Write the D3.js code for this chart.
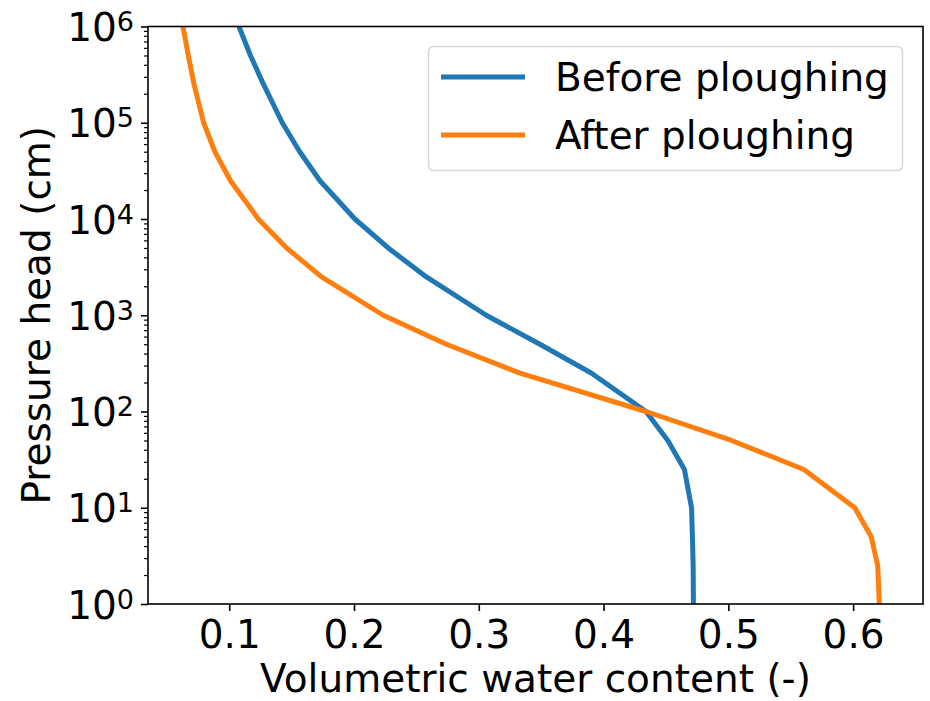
<!DOCTYPE html>
<html>
<head>
  <title></title>
  <script src="https://cdn.jsdelivr.net/npm/d3@7"></script>
  <style>
    body { margin: 0; background: #fff; }
    text { font-family: "DejaVu Sans", sans-serif; fill: #000; }
    .domain { display: none; }
  </style>
</head>
<body>
<script type="text/javascript">
// pressure heads (cm) and water contents
var heads = [1, 2.5, 5, 10, 25, 50, 100, 250, 500, 1000, 2500, 5000, 10000, 25000, 50000, 1e5, 2.5e5, 5e5, 1e6];
var before = [0.4720, 0.4718, 0.4712, 0.4705, 0.4648, 0.4515, 0.4340, 0.3904, 0.3490, 0.3060, 0.2580, 0.2274, 0.2007, 0.1727, 0.1565, 0.1425, 0.1275, 0.1170, 0.1078];
var after = [0.6210, 0.6197, 0.6145, 0.6013, 0.5605, 0.5026, 0.4340, 0.3330, 0.2740, 0.2234, 0.1740, 0.1460, 0.1233, 0.1010, 0.0885, 0.0795, 0.0718, 0.0672, 0.0629];
var seriesNames = ["Before ploughing", "After ploughing"];
var colors = ["#1f77b4", "#ff7f0e"];
var xTicks = [0.1, 0.2, 0.3, 0.4, 0.5, 0.6];
var yDecades = [0, 1, 2, 3, 4, 5, 6];

var W = 930, H = 701;
var pl = 148, pr = 923, pt = 26.5, pb = 604;
var fs = 39;

var svg = d3.select("body").append("svg")
    .attr("width", W)
    .attr("height", H);

var x = d3.scaleLinear().domain([0.0349, 0.656]).range([pl, pr]);
var y = d3.scaleLog().domain([1, 1e6]).range([pb, pt]);

// minor ticks on the log axis
var minor = [];
yDecades.slice(0, -1).forEach(function(e){
  for (var k = 2; k < 10; k++) minor.push(k * Math.pow(10, e));
});

var yMinor = svg.append("g")
    .attr("transform", "translate(" + pl + ",0)")
    .call(d3.axisLeft(y).tickValues(minor).tickSize(4).tickFormat(""));
yMinor.selectAll(".tick line").attr("stroke", "#000").attr("stroke-width", 1.2);

var yMajor = svg.append("g")
    .attr("transform", "translate(" + pl + ",0)")
    .call(d3.axisLeft(y).tickValues(yDecades.map(function(e){return Math.pow(10, e);}))
      .tickSize(7).tickPadding(8).tickFormat(""));
yMajor.selectAll(".tick line").attr("stroke", "#000").attr("stroke-width", 1.6);
yMajor.selectAll(".tick text").remove();
yMajor.selectAll(".tick").append("text")
    .attr("x", -14)
    .attr("y", 14)
    .attr("text-anchor", "end")
    .style("font-size", fs + "px")
    .each(function(d){
      var t = d3.select(this);
      t.append("tspan").text("10");
      t.append("tspan").attr("dy", -10).style("font-size", "27px")
        .text(Math.round(Math.log10(d)));
    });

var xAxis = svg.append("g")
    .attr("transform", "translate(0," + pb + ")")
    .call(d3.axisBottom(x).tickValues(xTicks).tickSize(7).tickPadding(9)
      .tickFormat(d3.format(".1f")));
xAxis.selectAll(".tick line").attr("stroke", "#000").attr("stroke-width", 1.6);
xAxis.selectAll(".tick text").style("font-size", fs + "px").attr("dy", "0.71em");

// curves
var line = d3.line()
    .x(function(d){return x(d[0]);})
    .y(function(d){return y(d[1]);});
var plot = svg.append("g");
plot.append("clipPath").attr("id", "clip")
    .append("rect").attr("x", pl).attr("y", pt)
    .attr("width", pr - pl).attr("height", pb - pt);
[before, after].forEach(function(s, i){
  plot.append("path")
    .datum(s.map(function(v, j){return [v, heads[j]];}))
    .attr("clip-path", "url(#clip)")
    .attr("d", line)
    .attr("fill", "none")
    .attr("stroke", colors[i])
    .attr("stroke-width", 5)
    .attr("stroke-linejoin", "round");
});

// frame
svg.append("rect")
    .attr("x", pl).attr("y", pt)
    .attr("width", pr - pl).attr("height", pb - pt)
    .attr("fill", "none").attr("stroke", "#000").attr("stroke-width", 1.6);

// legend
var lg = svg.append("g");
lg.append("rect")
    .attr("x", 428.5).attr("y", 46.5).attr("width", 474).attr("height", 124)
    .attr("rx", 5)
    .attr("fill", "#fff").attr("fill-opacity", 0.8)
    .attr("stroke", "#d6d6d6").attr("stroke-width", 1.5);
seriesNames.forEach(function(n, i){
  var ly = 77 + i * 58;
  lg.append("line")
    .attr("x1", 441).attr("x2", 525).attr("y1", ly).attr("y2", ly)
    .attr("stroke", colors[i]).attr("stroke-width", 5);
  lg.append("text")
    .attr("x", 555).attr("y", ly + 14)
    .style("font-size", fs + "px")
    .text(n);
});

// axis titles
svg.append("text")
    .attr("x", (pl + pr) / 2).attr("y", 692)
    .attr("text-anchor", "middle")
    .style("font-size", fs + "px")
    .text("Volumetric water content (-)");
svg.append("text")
    .attr("transform", "translate(50," + (pt + pb) / 2 + ") rotate(-90)")
    .attr("text-anchor", "middle")
    .style("font-size", fs + "px")
    .text("Pressure head (cm)");
</script>
</body>
</html>
